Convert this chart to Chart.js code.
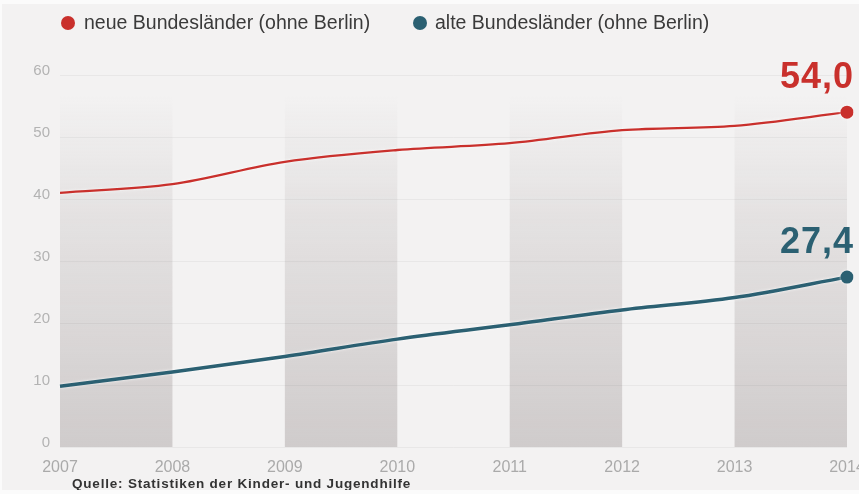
<!DOCTYPE html>
<html lang="de">
<head>
<meta charset="utf-8">
<title>Betreuungsquote</title>
<script src="https://cdn.jsdelivr.net/npm/chart.js@4/dist/chart.umd.min.js"></script>
<style>
  html, body { margin: 0; padding: 0; background: #fbfbfb; overflow: hidden; }
  #panel {
    position: absolute; left: 2px; top: 4px; width: 857px; height: 486px;
    background: #f3f2f2; overflow: hidden;
  }
  #chart-wrap { position: absolute; left: -2px; top: -4px; width: 890px; height: 494px; }
  .legend {
    position: absolute; top: 0; left: 0; height: 36px;
    font: 19.5px "Liberation Sans", Arial, sans-serif; color: #3a3a3a;
  }
  .legend span { position: absolute; top: 7px; white-space: nowrap; }
  .legend i {
    position: absolute; width: 14px; height: 14px; border-radius: 50%; top: 12px;
  }
  .source {
    position: absolute; left: 70px; top: 472px;
    font: bold 13.5px "Liberation Sans", Arial, sans-serif; color: #333;
    letter-spacing: 0.8px; white-space: nowrap;
  }
</style>
</head>
<body>
<div id="panel">
  <div id="chart-wrap"><canvas id="chart" width="890" height="494"></canvas></div>
  <div class="legend">
    <i style="left:59px;background:#c9302c"></i><span style="left:82px">neue Bundesländer (ohne Berlin)</span>
    <i style="left:411px;background:#2b6072"></i><span style="left:433px">alte Bundesländer (ohne Berlin)</span>
  </div>
  <div class="source">Quelle: Statistiken der Kinder- und Jugendhilfe</div>
</div>

<script>
// ── Data ───────────────────────────────────────────────
const years = ['2007', '2008', '2009', '2010', '2011', '2012', '2013', '2014'];
const neueLaender = [41.0, 42.4, 46.0, 47.9, 49.0, 51.1, 51.8, 54.0];
const alteLaender = [9.8, 12.1, 14.6, 17.4, 19.7, 22.1, 24.1, 27.4];
const yTicks = [0, 10, 20, 30, 40, 50, 60];

const RED = '#c9302c';
const BLUE = '#2b6072';

// ── Plugins ────────────────────────────────────────────
// shaded column behind every other year interval, fading out towards the top
const bandsPlugin = {
  id: 'bands',
  beforeDraw(chart) {
    const { ctx, chartArea: a, scales: { x } } = chart;
    const grad = ctx.createLinearGradient(0, a.top + 20, 0, a.bottom);
    grad.addColorStop(0, 'rgba(200,195,195,0)');
    grad.addColorStop(0.35, 'rgba(200,195,195,0.35)');
    grad.addColorStop(1, 'rgba(195,190,190,0.75)');
    ctx.save();
    ctx.fillStyle = grad;
    for (let i = 0; i + 1 < years.length; i += 2) {
      const x0 = x.getPixelForValue(i);
      const x1 = x.getPixelForValue(i + 1);
      ctx.fillRect(x0, a.top + 20, x1 - x0, a.bottom - a.top - 20);
    }
    ctx.restore();
  },
};

// light halo under the lines
const haloPlugin = {
  id: 'halo',
  beforeDatasetDraw(chart) {
    chart.ctx.save();
    chart.ctx.shadowColor = 'rgba(255,255,255,0.9)';
    chart.ctx.shadowBlur = 3;
  },
  afterDatasetDraw(chart) {
    chart.ctx.restore();
  },
};

// big value label above the last point of each line
const lastValuePlugin = {
  id: 'lastValue',
  afterDatasetsDraw(chart) {
    const { ctx } = chart;
    ctx.save();
    ctx.font = 'bold 36px "Liberation Sans", Arial, sans-serif';
    ctx.letterSpacing = '1px';
    ctx.textAlign = 'right';
    ctx.textBaseline = 'alphabetic';
    chart.data.datasets.forEach((ds, i) => {
      const pts = chart.getDatasetMeta(i).data;
      const p = pts[pts.length - 1];
      const v = ds.data[ds.data.length - 1];
      ctx.fillStyle = ds.borderColor;
      ctx.fillText(v.toFixed(1).replace('.', ','), p.x + 7, p.y - 24);
    });
    ctx.restore();
  },
};

const lastOnly = (r) => (ctx) => ctx.dataIndex === years.length - 1 ? r : 0;

// ── Chart ──────────────────────────────────────────────
new Chart(document.getElementById('chart'), {
  type: 'line',
  data: {
    labels: years,
    datasets: [
      {
        label: 'neue Bundesländer (ohne Berlin)',
        data: neueLaender,
        borderColor: RED,
        backgroundColor: RED,
        borderWidth: 2.3,
        pointRadius: lastOnly(6.5),
        pointBorderWidth: 0,
        cubicInterpolationMode: 'monotone',
      },
      {
        label: 'alte Bundesländer (ohne Berlin)',
        data: alteLaender,
        borderColor: BLUE,
        backgroundColor: BLUE,
        borderWidth: 3.5,
        pointRadius: lastOnly(6.5),
        pointBorderWidth: 0,
        cubicInterpolationMode: 'monotone',
      },
    ],
  },
  options: {
    responsive: false,
    animation: false,
    layout: { padding: { top: 75, right: 43, bottom: 17, left: 0 } },
    plugins: { legend: { display: false }, tooltip: { enabled: false } },
    scales: {
      x: {
        offset: false,
        grid: { display: false },
        border: { display: false },
        ticks: {
          color: '#aaaaaa',
          font: { family: '"Liberation Sans", Arial, sans-serif', size: 16 },
          padding: 3,
          maxRotation: 0,
          autoSkip: false,
        },
        afterFit: (s) => { s.height = 30; },
      },
      y: {
        min: 0,
        max: 60,
        afterBuildTicks: (s) => { s.ticks = yTicks.map(v => ({ value: v })); },
        grid: { color: 'rgba(0,0,0,0.045)', drawTicks: false },
        border: { display: false },
        ticks: {
          color: '#b3b3b3',
          font: { family: '"Liberation Sans", Arial, sans-serif', size: 15 },
          padding: 10,
          labelOffset: -4,
        },
        afterFit: (s) => { s.width = 60; },
      },
    },
  },
  plugins: [bandsPlugin, haloPlugin, lastValuePlugin],
});
</script>
</body>
</html>
